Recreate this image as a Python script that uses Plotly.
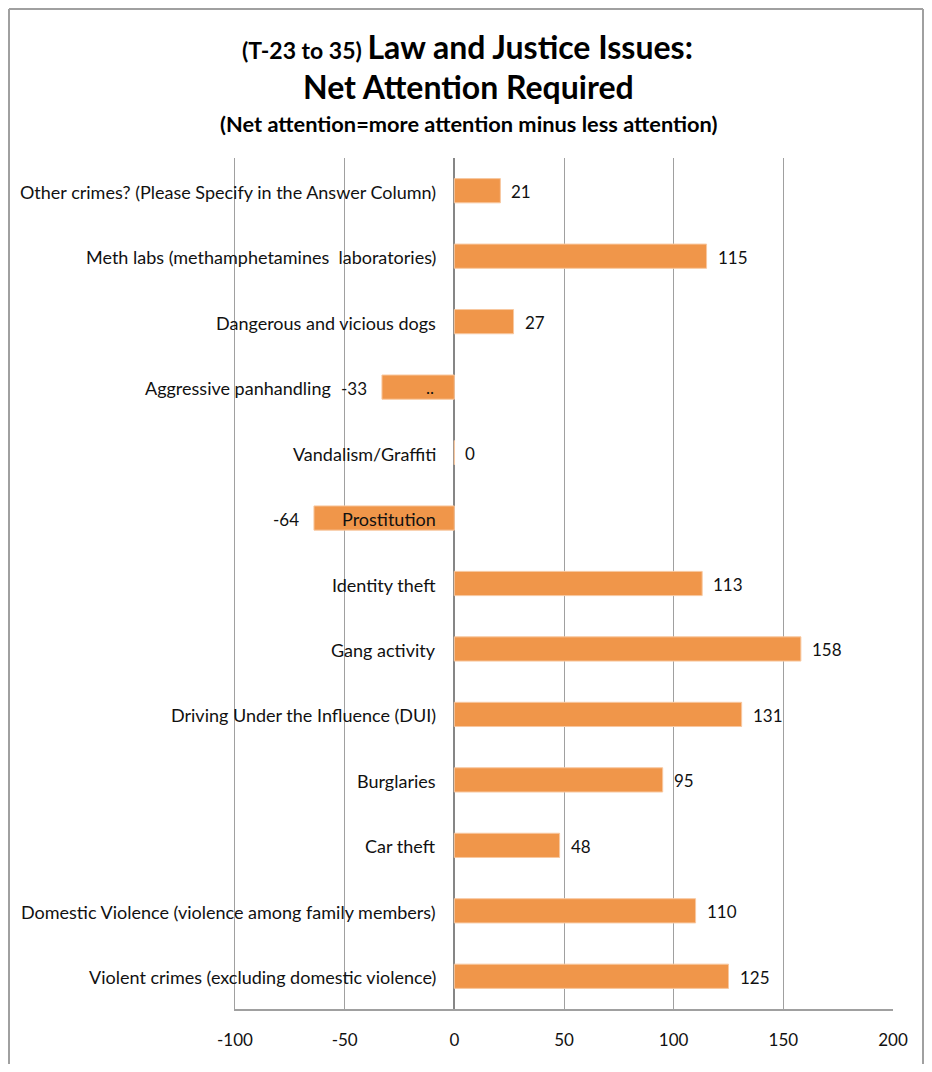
import plotly.graph_objects as go

# Data (top-to-bottom order as shown)
categories = [
    "Other crimes? (Please Specify in the Answer Column)",
    "Meth labs (methamphetamines  laboratories)",
    "Dangerous and vicious dogs",
    "Aggressive panhandling",
    "Vandalism/Graffiti",
    "Prostitution",
    "Identity theft",
    "Gang activity",
    "Driving Under the Influence (DUI)",
    "Burglaries",
    "Car theft",
    "Domestic Violence (violence among family members)",
    "Violent crimes (excluding domestic violence)",
]
values = [21, 115, 27, -33, 0, -64, 113, 158, 131, 95, 48, 110, 125]
x_ticks = [-100, -50, 0, 50, 100, 150, 200]

FONT = "Lato"
BAR = "#F0964A"
GRID = "#A0A0A0"
W, H = 916, 1056
ML, MR, MT, MB = 227, 31, 150, 55
PW, PH = W - ML - MR, H - MT - MB

fig = go.Figure()
fig.add_trace(go.Bar(
    y=categories, x=values, orientation="h",
    marker=dict(color=BAR, line=dict(color="#F8C8A0", width=1)),
    width=0.37, hoverinfo="x+y",
))

ann = []
# category labels next to the zero line
for c in categories:
    shift = -121 if c == "Aggressive panhandling" else -16
    ann.append(dict(x=0, y=c, xref="x", yref="y", text=c, showarrow=False,
                    xanchor="right", yanchor="middle", xshift=shift, yshift=-1,
                    font=dict(family=FONT, size=18, color="#111")))
# value labels
for c, v in zip(categories, values):
    if v >= 0:
        ann.append(dict(x=v, y=c, xref="x", yref="y", text=str(v), showarrow=False,
                        xanchor="left", yanchor="middle", xshift=9, yshift=-1,
                        font=dict(family=FONT, size=17, color="#111")))
    else:
        ann.append(dict(x=v, y=c, xref="x", yref="y", text=str(v), showarrow=False,
                        xanchor="right", yanchor="middle", xshift=-13, yshift=-1,
                        font=dict(family=FONT, size=17, color="#111")))
# stray ".." inside the panhandling bar
ann.append(dict(x=0, y="Aggressive panhandling", xref="x", yref="y", text="..",
                showarrow=False, xanchor="center", yanchor="middle", xshift=-24,
                font=dict(family=FONT, size=17, color="#111")))

# titles
ann += [
    dict(x=0.354, y=1.131, xref="paper", yref="paper", showarrow=False,
         xanchor="center", yanchor="middle",
         text="<b><span style='font-size:23px'>(T-23 to 35) </span>Law and Justice Issues:</b>",
         font=dict(family=FONT, size=32, color="#000")),
    dict(x=0.355, y=1.084, xref="paper", yref="paper", showarrow=False,
         xanchor="center", yanchor="middle",
         text="<b>Net Attention Required</b>",
         font=dict(family=FONT, size=32, color="#000")),
    dict(x=0.356, y=1.041, xref="paper", yref="paper", showarrow=False,
         xanchor="center", yanchor="middle",
         text="<b>(Net attention=more attention minus less attention)</b>",
         font=dict(family=FONT, size=21.8, color="#000")),
]

# chart-area border (left, top, right; bottom runs off the page)
bx0, bx1 = (1 - ML) / PW, (W - 1 - ML) / PW
by_top, by_bot = (PH + MT - 1) / PH, -(MB + 10) / PH
border = dict(color="#A0A0A0", width=2)
shapes = [
    dict(type="line", xref="paper", yref="paper", x0=bx0, x1=bx0, y0=by_bot, y1=by_top, line=border, layer="below"),
    dict(type="line", xref="paper", yref="paper", x0=bx0, x1=bx1, y0=by_top, y1=by_top, line=border, layer="below"),
    dict(type="line", xref="paper", yref="paper", x0=bx1, x1=bx1, y0=by_bot, y1=by_top, line=border, layer="below"),
]

fig.update_layout(
    width=W, height=H,
    margin=dict(l=ML, r=MR, t=MT, b=MB),
    paper_bgcolor="white", plot_bgcolor="white",
    showlegend=False,
    annotations=ann,
    shapes=shapes,
    xaxis=dict(range=[-100, 200], tickvals=x_ticks, ticktext=[str(t) for t in x_ticks],
               showgrid=True, gridcolor=GRID, gridwidth=1,
               zeroline=True, zerolinecolor="#868686", zerolinewidth=1.5,
               showline=True, linecolor=GRID, linewidth=1.5, mirror=False,
               ticks="", ticklabelstandoff=15,
               tickfont=dict(family=FONT, size=17, color="#111")),
    yaxis=dict(categoryorder="array", categoryarray=categories[::-1],
               range=[-0.5, len(categories) - 0.5],
               showticklabels=False, showgrid=False, zeroline=False,
               showline=True, linecolor=GRID, linewidth=1, ticks=""),
)

fig.write_html("out.html")
